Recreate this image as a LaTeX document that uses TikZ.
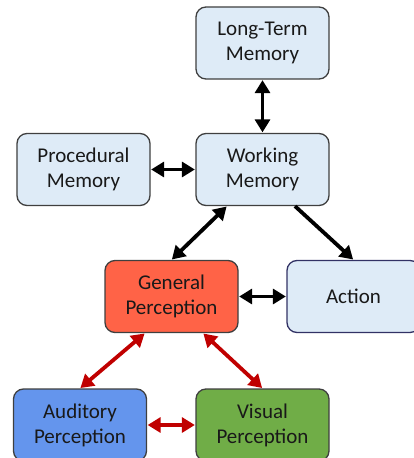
\documentclass[tikz,border=0pt]{standalone}
\usepackage{fontspec}
\setmainfont{Carlito}
\usepackage{xcolor}
\definecolor{pale}{HTML}{DEEBF7}
\definecolor{tomato}{HTML}{FF6347}
\definecolor{cornflower}{HTML}{6495ED}
\definecolor{leaf}{HTML}{70AD47}
\definecolor{rim}{HTML}{3F3F3F}
\definecolor{darkred}{HTML}{C00000}
\usepackage{tikz}
\usetikzlibrary{arrows.meta}
\tikzset{
    module/.style = {
      draw = rim,
      line width = 1.3bp,
      rounded corners = 10bp,
      fill = pale,
      text = black!90,
      minimum width = 133bp,
      minimum height = 72bp,
      align = center,
      font = \fontsize{21bp}{25bp}\selectfont,
    },
    <-->/.style = {
      {Triangle[length=13bp,width=15bp]}-{Triangle[length=13bp,width=15bp]},
      line width = 3.8bp,
      shorten <= 0.5bp, shorten >= 0.5bp
    },
    -->/.style = {
      -{Triangle[length=13bp,width=15bp]},
      line width = 3.8bp,
      shorten >= 0.5bp
    },
}

\begin{document}
\begin{tikzpicture}[x=1bp, y=1bp]
    \useasboundingbox (0, 0) rectangle (413, -458);

    \node[module] (LTM) at (262.5, -43) {Long-Term\\Memory};
    \node[module] (PM) at (83.5, -169.5) {Procedural\\Memory};
    \node[module] (WM) at (262.5, -169.5) {Working\\Memory};
    \node[module, fill=tomato] (GP) at (171.5, -296.5) {General\\Perception};
    \node[module, draw=rim!80!blue] (ACT) at (353.5, -296.5) {Action};
    \node[module, fill=cornflower] (AUD) at (80, -425) {Auditory\\Perception};
    \node[module, fill=leaf] (VIS) at (262.5, -425) {Visual\\Perception};

    \draw[<-->] (LTM) -- (WM);
    \draw[<-->] (PM) -- (WM);
    \draw[<-->] ([xshift=-35.5bp]WM.south) -- (GP.north);
    \draw[-->] ([xshift=32.5bp]WM.south) -- (ACT.north);
    \draw[<-->] (GP) -- (ACT);

    \draw[<-->, darkred] ([xshift=-26.5bp]GP.south) -- (AUD.north);
    \draw[<-->, darkred] ([xshift=31.5bp]GP.south) -- (VIS.north);
    \draw[<-->, darkred] (AUD) -- (VIS);
\end{tikzpicture}
\end{document}
